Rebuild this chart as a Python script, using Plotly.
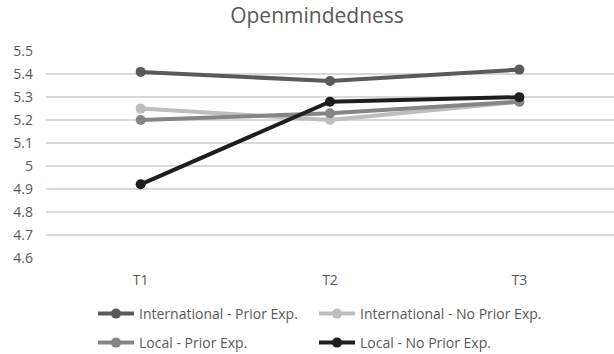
import plotly.graph_objects as go

categories = ["T1", "T2", "T3"]
intl_prior = [5.41, 5.37, 5.42]
intl_noprior = [5.25, 5.20, 5.28]
local_prior = [5.20, 5.23, 5.28]
local_noprior = [4.92, 5.28, 5.30]
y_ticks = [4.6, 4.7, 4.8, 4.9, 5, 5.1, 5.2, 5.3, 5.4, 5.5]
y_tick_text = ["4.6", "4.7", "4.8", "4.9", "5", "5.1", "5.2", "5.3", "5.4", "5.5"]

FONT = "Open Sans"
TXT = "#595959"
W, H = 614, 354

series = [
    ("International - Prior Exp.", intl_prior, "#5a5a5a"),
    ("International - No Prior Exp.", intl_noprior, "#bdbdbd"),
    ("Local - Prior Exp.", local_prior, "#858585"),
    ("Local - No Prior Exp.", local_noprior, "#1e1e1e"),
]
# legend anchor positions (pixels) for each entry
leg_pos = [(93, 314), (314, 314), (93, 343), (314, 343)]
legend_names = ["legend", "legend2", "legend3", "legend4"]

fig = go.Figure()
order = [1, 2, 0, 3]
for i in order:
    name, vals, col = series[i]
    fig.add_trace(go.Scatter(
        x=categories, y=vals, name=name, mode="lines+markers",
        line=dict(color=col, width=4),
        marker=dict(color=col, size=10),
        legend=legend_names[i],
    ))

legends = {}
for i, ln in enumerate(legend_names):
    px, py = leg_pos[i]
    legends[ln] = dict(
        xref="container", yref="container",
        x=px / W, y=1 - py / H, xanchor="left", yanchor="middle",
        orientation="h",
        font=dict(family=FONT, size=14, color=TXT),
        bgcolor="rgba(0,0,0,0)", itemwidth=36,
    )

fig.update_layout(
    width=W, height=H,
    margin=dict(l=46, r=0, t=51, b=96, autoexpand=False),
    paper_bgcolor="white", plot_bgcolor="white",
    title=dict(text="Openmindedness", x=317 / W, xanchor="center", y=1 - 16 / H, yanchor="middle",
               font=dict(family=FONT, size=21, color=TXT)),
    xaxis=dict(type="category", showgrid=False, showline=False, ticks="",
               ticklabelstandoff=12,
               tickfont=dict(family=FONT, size=14, color=TXT), range=[-0.5, 2.5]),
    yaxis=dict(range=[4.599, 5.501], tickvals=y_ticks, ticktext=y_tick_text,
               showgrid=True, gridcolor="#d9d9d9", gridwidth=1.5, zeroline=False,
               showline=False, ticks="", ticklabelstandoff=12,
               tickfont=dict(family=FONT, size=14, color=TXT)),
    showlegend=True,
    **legends,
)

fig.write_html("out.html", config={"displayModeBar": False},
               post_script="document.body.style.margin='0px';document.body.style.overflow='hidden';")
